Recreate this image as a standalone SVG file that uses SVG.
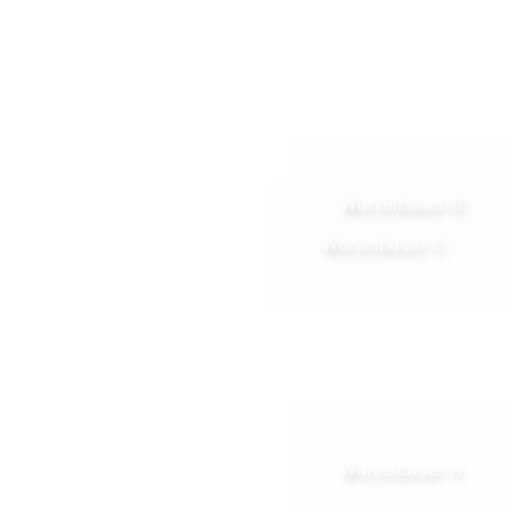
<svg xmlns="http://www.w3.org/2000/svg" width="512" height="512" viewBox="0 0 512 512">
<defs>
<filter id="sh" x="-30%" y="-120%" width="160%" height="360%">
<feGaussianBlur in="SourceAlpha" stdDeviation="4"/>
<feOffset dx="3" dy="6" result="b"/>
<feFlood flood-color="#000" flood-opacity="0.3"/>
<feComposite in2="b" operator="in" result="s"/>
<feMerge><feMergeNode in="s"/><feMergeNode in="SourceGraphic"/></feMerge>
</filter>
</defs>
<style>
.lbl{font-family:"DejaVu Sans",Verdana,sans-serif;font-size:16.6px;font-weight:300;fill:#ffffff;filter:url(#sh)}
.bg{fill:#000;fill-opacity:0.005;stroke:none}
</style>
<rect width="512" height="512" fill="#ffffff"/>
<g id="connectors"/>
<g id="nodeB">
<rect class="bg" x="288" y="140" width="224" height="170"/>
<text class="lbl" x="341" y="210">Wurzelbauer B</text>
</g>
<g id="nodeC">
<rect class="bg" x="270" y="181" width="242" height="132"/>
<text class="lbl" x="322" y="250">Wurzelbauer C</text>
</g>
<g id="nodeA">
<rect class="bg" x="288" y="400" width="224" height="112"/>
<text class="lbl" x="340" y="475">Wurzelbauer A</text>
</g>
</svg>
